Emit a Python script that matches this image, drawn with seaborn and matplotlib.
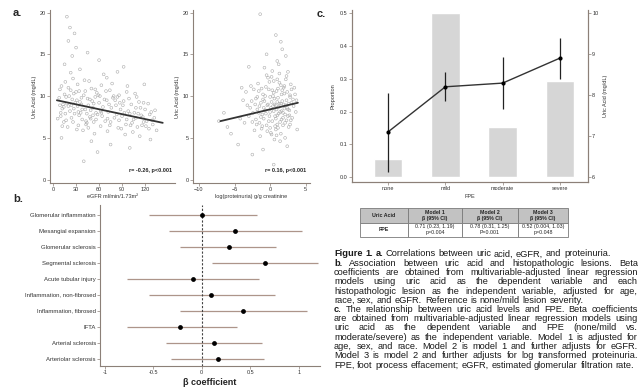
import numpy as np
import matplotlib
matplotlib.use("Agg")
import matplotlib.pyplot as plt
import seaborn as sns
from matplotlib.font_manager import FontProperties

# ---- panel a: uric acid vs eGFR ----
egfr = [8, 12, 15, 10, 18, 20, 22, 25, 14, 9,
        28, 30, 32, 26, 35, 38, 40, 33, 24, 16,
        42, 45, 48, 50, 44, 52, 55, 47, 39, 36,
        58, 60, 62, 65, 57, 63, 68, 70, 54, 66,
        72, 75, 78, 80, 74, 82, 85, 77, 71, 88,
        90, 92, 95, 98, 86, 94, 100, 102, 97, 89,
        105, 108, 110, 112, 104, 115, 118, 120, 107, 113,
        122, 125, 128, 130, 124, 132, 135, 127, 119, 116,
        18, 22, 28, 20, 30, 60, 25, 45, 15, 35,
        70, 92, 40, 58, 100, 75, 50, 11, 6, 84,
        10, 13, 17, 21, 27, 31, 37, 43, 49, 53,
        11, 19, 23, 29, 34, 41, 46, 51, 56, 61,
        14, 17, 24, 27, 31, 34, 38, 42, 46, 49,
        53, 56, 59, 63, 67, 71, 76, 79, 83, 87,
        91, 96, 99, 103, 106, 109, 114, 117, 121, 126,
        12, 16, 20, 26, 32, 37, 44, 48, 55, 64,
        69, 73, 81, 86, 93, 101, 111, 129, 133, 9,
        23, 33, 43, 52, 62, 74, 84, 96, 108, 118]
ua_egfr = [9.8, 8.5, 10.2, 7.6, 9.1, 11.0, 8.2, 9.6, 6.9, 10.8,
           7.9, 10.5, 8.8, 12.1, 9.3, 7.2, 10.1, 6.5, 8.9, 11.7,
           8.4, 9.7, 7.5, 10.9, 6.8, 8.6, 9.9, 11.8, 5.9, 8.0,
           7.8, 9.2, 6.4, 8.7, 10.4, 11.3, 7.0, 9.5, 5.5, 12.6,
           8.1, 6.9, 9.8, 7.4, 10.7, 8.9, 6.2, 11.5, 5.8, 8.4,
           7.6, 9.4, 6.6, 8.2, 10.1, 5.4, 7.9, 9.0, 11.2, 6.1,
           7.2, 8.6, 6.3, 9.3, 5.7, 7.7, 6.9, 8.4, 10.3, 5.2,
           7.0, 6.1, 8.1, 6.6, 9.1, 7.4, 5.9, 4.8, 11.4, 6.5,
           19.5, 18.2, 17.5, 16.6, 15.8, 14.3, 14.8, 15.2, 13.8, 13.2,
           12.2, 13.5, 2.2, 3.3, 3.8, 4.2, 4.6, 5.0, 7.3, 12.9,
           8.0, 9.0, 7.1, 10.0, 8.5, 6.0, 9.0, 7.0, 8.3, 6.9,
           11.2, 6.3, 12.8, 9.2, 10.6, 11.9, 6.2, 9.4, 8.0, 10.0,
           8.7, 9.9, 7.4, 10.3, 9.5, 7.7, 8.4, 10.6, 8.9, 7.3,
           9.1, 7.2, 10.1, 8.0, 9.6, 7.3, 8.6, 10.0, 7.8, 9.2,
           8.9, 7.2, 9.7, 6.8, 8.0, 9.9, 8.6, 7.5, 6.4, 7.8,
           6.4, 7.9, 8.8, 6.9, 11.4, 9.8, 7.9, 9.6, 10.8, 7.6,
           10.6, 9.0, 9.5, 7.1, 8.0, 6.5, 7.9, 7.1, 8.3, 8.9,
           10.7, 8.1, 6.6, 7.7, 8.2, 6.5, 9.9, 10.5, 7.4, 9.2]
fit_egfr_x = [5, 143]
fit_egfr_y = [9.5, 6.8]

# ---- panel a: uric acid vs log proteinuria ----
logprot = [-2.0, -1.5, -1.0, -0.5, 0.0, 0.5, 1.0, 1.5, 2.0, 2.5,
           -1.8, -1.2, -0.7, -0.2, 0.3, 0.8, 1.3, 1.8, 2.3, 2.8,
           -2.4, -1.6, -0.9, -0.3, 0.2, 0.7, 1.1, 1.6, 2.1, 3.0,
           -1.9, -1.3, -0.6, 0.1, 0.6, 1.2, 1.7, 2.2, 2.7, 3.3,
           -2.6, -1.1, -0.4, 0.4, 0.9, 1.4, 1.9, 2.4, 2.9, 3.5,
           -3.0, -2.2, -0.8, 0.0, 0.5, 1.0, 1.5, 2.0, 2.6, 3.1,
           -3.4, -1.7, -0.1, 0.3, 0.8, 1.3, 1.8, 2.3, 2.8, 3.6,
           -2.8, -1.4, -0.5, 0.6, 1.1, 1.6, 2.1, 2.5, 0.2, 1.0,
           -1.4, 0.8, 1.5, -0.5, 2.2, -3.0, 1.0, -6.5, -7.2, -5.5,
           -4.5, -2.5, 0.5, -3.8, -6.0, -4.0, 3.8, -1.0, 2.4, 1.7,
           -1.6, -1.0, -0.4, 0.2, 0.7, 1.2, 1.7, 2.2, 2.7, 3.2,
           -2.1, -1.3, -0.7, -0.1, 0.4, 0.9, 1.4, 1.9, 2.4, 2.9,
           -2.5, -1.8, -1.2, -0.6, 0.0, 0.6, 1.1, 1.6, 2.0, 3.4,
           -2.3, -1.5, -0.9, -0.3, 0.3, 0.8, 1.3, 1.8, 2.5, 3.0,
           -3.2, -2.0, -1.1, -0.2, 0.5, 1.0, 1.5, 2.1, 2.6, 3.7,
           -4.2, -3.6, -2.7, 0.1, 0.9, 1.4, 2.3, 2.8, -0.8, 1.2]
ua_prot = [7.2, 8.8, 9.6, 6.5, 8.1, 10.4, 7.7, 9.1, 11.2, 8.4,
           9.9, 6.1, 8.3, 10.8, 7.0, 8.9, 11.6, 7.4, 9.5, 10.1,
           8.0, 10.6, 7.3, 9.0, 12.3, 6.4, 9.8, 8.2, 6.8, 9.2,
           6.6, 9.2, 11.1, 8.6, 9.7, 7.9, 10.7, 12.0, 7.7, 8.8,
           9.4, 7.8, 5.8, 10.0, 8.4, 6.9, 9.0, 8.6, 11.4, 10.2,
           7.6, 5.9, 9.4, 6.2, 11.8, 9.3, 5.5, 10.3, 6.3, 7.4,
           10.5, 11.5, 7.6, 13.0, 6.0, 12.7, 8.0, 7.1, 9.9, 8.1,
           8.6, 5.2, 12.5, 4.8, 10.9, 7.2, 5.0, 12.9, 5.4, 6.6,
           19.8, 17.3, 16.5, 15.0, 14.8, 13.5, 14.2, 8.0, 7.0, 5.5,
           4.2, 3.0, 1.8, 9.5, 6.3, 11.0, 6.0, 3.6, 4.0, 15.6,
           8.0, 10.2, 8.9, 9.3, 7.6, 8.7, 9.4, 8.9, 8.3, 9.6,
           9.0, 7.5, 10.0, 11.7, 8.8, 10.6, 8.1, 11.0, 10.5, 7.1,
           6.9, 8.4, 10.9, 7.9, 9.9, 9.0, 6.2, 10.2, 8.5, 11.0,
           10.8, 6.8, 8.6, 12.2, 10.7, 7.3, 9.1, 6.5, 7.6, 10.8,
           8.9, 9.7, 6.4, 7.0, 8.2, 12.0, 11.3, 7.8, 9.1, 9.5,
           7.3, 6.8, 11.2, 5.6, 5.3, 4.6, 12.4, 6.6, 13.4, 13.8]
fit_prot_x = [-7.0, 3.9]
fit_prot_y = [7.0, 9.2]

# ---- panel b: forest plot ----
lesions = ["Glomerular inflammation", "Mesangial expansion", "Glomerular sclerosis",
           "Segmental sclerosis", "Acute tubular injury", "Inflammation, non-fibrosed",
           "Inflammation, fibrosed", "IFTA", "Arterial sclerosis", "Arteriolar sclerosis"]
beta = [0.00, 0.34, 0.28, 0.65, -0.09, 0.10, 0.43, -0.22, 0.13, 0.17]
beta_lo = [-0.54, -0.34, -0.22, 0.11, -0.77, -0.54, -0.22, -0.77, -0.37, -0.32]
beta_hi = [0.57, 1.03, 0.77, 1.20, 0.59, 0.76, 1.09, 0.36, 0.62, 0.64]

# ---- panel c: FPE ----
fpe = ["none", "mild", "moderate", "severe"]
fpe_prop = [0.056, 0.50, 0.153, 0.293]
fpe_ua = [7.1, 8.2, 8.29, 8.9]
fpe_ua_lo = [6.12, 7.86, 7.67, 8.40]
fpe_ua_hi = [8.04, 8.55, 8.92, 9.39]

table_rows = [["Uric Acid", "Model 1\nβ (95% CI)", "Model 2\nβ (95% CI)", "Model 3\nβ (95% CI)"],
              ["FPE", "0.71 (0.23, 1.19)\np=0.004", "0.78 (0.31, 1.25)\nP=0.001",
               "0.52 (0.004, 1.03)\np=0.048"]]

caption = [
    ("*Figure *1. *a. Correlations between uric acid, eGFR, and proteinuria.", False),
    ("*b. Association between uric acid and histopathologic lesions. Beta", True),
    ("coefficients are obtained from multivariable-adjusted linear regression", True),
    ("models using uric acid as the dependent variable and each", True),
    ("histopathologic lesion as the independent variable, adjusted for age,", True),
    ("race, sex, and eGFR. Reference is none/mild lesion severity.", False),
    ("*c. The relationship between uric acid levels and FPE. Beta coefficients", True),
    ("are obtained from multivariable-adjusted linear regression models using", True),
    ("uric acid as the dependent variable and FPE (none/mild vs.", True),
    ("moderate/severe) as the independent variable. Model 1 is adjusted for", True),
    ("age, sex, and race. Model 2 is model 1 and further adjusts for eGFR.", True),
    ("Model 3 is model 2 and further adjusts for log transformed proteinuria.", True),
    ("FPE, foot process effacement; eGFR, estimated glomerular filtration rate.", False),
]

sns.set_style("ticks")
plt.rcParams["font.family"] = ["Liberation Sans", "DejaVu Sans"]
SPINE = "#8c8078"
W, H = 641, 389


def box(x0, y0, x1, y1):
    return [x0 / W, 1 - y1 / H, (x1 - x0) / W, (y1 - y0) / H]


def style_ax(ax, right=False):
    sns.despine(ax=ax, right=not right)
    for s in ax.spines.values():
        s.set_color(SPINE)
        s.set_linewidth(0.8)
    ax.tick_params(labelsize=4, length=2, width=0.5, pad=1, color=SPINE, labelcolor="#333")


fig = plt.figure(figsize=(6.41, 3.89), dpi=100)

# a. scatter panels
ax1 = fig.add_axes(box(50, 10, 175, 183))
sns.scatterplot(x=egfr, y=ua_egfr, ax=ax1, s=4, marker="o", color="none",
                edgecolor="#ababab", linewidth=0.4)
sns.lineplot(x=fit_egfr_x, y=fit_egfr_y, ax=ax1, color="#333", lw=1.3)
ax1.set_xlim(-4, 159)
ax1.set_ylim(-0.4, 20.3)
ax1.set_xticks([0, 30, 60, 90, 120])
ax1.set_yticks([0, 5, 10, 15, 20])
ax1.set_xlabel("eGFR ml/min/1.73m²", fontsize=4, labelpad=1, color="#333")
ax1.set_ylabel("Uric Acid (mg/dL)", fontsize=4, labelpad=2, color="#333")
ax1.text(155, 0.9, "r= -0.26, p<0.001", fontsize=4, fontweight="bold", ha="right")
style_ax(ax1)

ax2 = fig.add_axes(box(193, 10, 310, 183))
sns.scatterplot(x=logprot, y=ua_prot, ax=ax2, s=4, marker="o", color="none",
                edgecolor="#ababab", linewidth=0.4)
sns.lineplot(x=fit_prot_x, y=fit_prot_y, ax=ax2, color="#333", lw=1.3)
ax2.set_xlim(-10.84, 5.6)
ax2.set_ylim(-0.4, 20.3)
ax2.set_xticks([-10, -5, 0, 5])
ax2.set_yticks([0, 5, 10, 15, 20])
ax2.set_xlabel("log(proteinuria) g/g creatinine", fontsize=4, labelpad=1, color="#333")
ax2.set_ylabel("Uric Acid (mg/dL)", fontsize=4, labelpad=2, color="#333")
ax2.text(5.0, 0.9, "r= 0.16, p<0.001", fontsize=4, fontweight="bold", ha="right")
style_ax(ax2)

# b. forest plot
axb = fig.add_axes(box(100, 205, 320, 366))
axb.hlines(range(len(lesions)), beta_lo, beta_hi, color="#ad958a", lw=0.9)
sns.scatterplot(x=beta, y=list(range(len(lesions))), ax=axb, s=12, color="black",
                linewidth=0, zorder=3)
axb.axvline(0, color="#444", lw=0.8, ls=(0, (2, 1.5)))
axb.set_xlim(-1.05, 1.22)
axb.set_ylim(9.45, -0.6)
axb.set_yticks(range(len(lesions)))
axb.set_yticklabels(lesions)
axb.set_xticks([-1, -0.5, 0, 0.5, 1])
axb.set_xticklabels(["-1", "-0.5", "0", "0.5", "1"])
axb.set_xlabel("β coefficient", fontsize=6.5, fontweight="bold", labelpad=2, color="#222")
style_ax(axb)
axb.tick_params(axis="y", labelsize=4.3)

# c. bars + uric acid line
axc = fig.add_axes(box(352, 10, 588, 182))
sns.barplot(x=fpe, y=fpe_prop, ax=axc, color="#d6d6d6", width=0.5, saturation=1)
axc.set_xlim(-0.63, 3.49)
axc.set_ylim(-0.015, 0.51)
axc.set_yticks([0, 0.1, 0.2, 0.3, 0.4, 0.5])
axc.set_xlabel("FPE", fontsize=4, labelpad=2, color="#333")
axc.set_ylabel("Proportion", fontsize=4, labelpad=3, color="#333")
style_ax(axc, right=True)
axc.spines["right"].set_visible(True)

axr = axc.twinx()
xs = np.arange(len(fpe))
axr.errorbar(xs, fpe_ua,
             yerr=[np.subtract(fpe_ua, fpe_ua_lo), np.subtract(fpe_ua_hi, fpe_ua)],
             fmt="none", ecolor="#222", elinewidth=0.9)
sns.lineplot(x=xs, y=fpe_ua, ax=axr, color="#333", lw=1.0, marker="o", markersize=3,
             markeredgewidth=0, markerfacecolor="black")
axr.set_ylim(5.878, 10.073)
axr.set_yticks([6, 7, 8, 9, 10])
axr.set_ylabel("Uric Acid (mg/dL)", fontsize=4, labelpad=3, color="#333")
axr.spines["top"].set_visible(False)
for s in axr.spines.values():
    s.set_color(SPINE)
    s.set_linewidth(0.8)
axr.tick_params(labelsize=4, length=2, width=0.5, pad=1, color=SPINE, labelcolor="#333")

# table
axt = fig.add_axes(box(360, 208, 568, 237))
axt.axis("off")
tab = axt.table(cellText=table_rows, bbox=[0, 0, 1, 1], cellLoc="center",
                colWidths=[48, 54, 56, 50])
tab.auto_set_font_size(False)
for (r, c), cell in tab.get_celld().items():
    cell.set_edgecolor("#7a7a7a")
    cell.set_linewidth(0.6)
    cell.get_text().set_fontsize(3.8)
    cell.get_text().set_color("#222")
    if r == 0:
        cell.set_facecolor("#c2c2c2")
        cell.get_text().set_fontweight("bold")
    if c == 0:
        cell.get_text().set_fontweight("bold")

# panel labels
fig.text(13 / W, 1 - 16 / H, "a.", fontsize=8, fontweight="bold")
fig.text(13 / W, 1 - 202 / H, "b.", fontsize=8, fontweight="bold")
fig.text(317 / W, 1 - 17 / H, "c.", fontsize=8, fontweight="bold")

# caption, justified line by line
renderer = fig.canvas.get_renderer()
cap_x0, cap_x1, cap_y0, cap_dy = 334, 638, 254, 9.25


def word_w(s, bold, size):
    fp = FontProperties(family="Liberation Sans", size=size, weight="bold" if bold else "normal")
    w, h, d = renderer.get_text_width_height_descent(s, fp, ismath=False)
    return w


# size the caption font so the last (unjustified) line fills the column
fs = 6.0 * (cap_x1 - cap_x0 - 2) / word_w(caption[-1][0], False, 6.0)
space_w = word_w("a a", False, fs) - 2 * word_w("a", False, fs)
for i, (line, justify) in enumerate(caption):
    words = [(w.lstrip("*"), w.startswith("*")) for w in line.split(" ")]
    widths = [word_w(w, b, fs) for w, b in words]
    gap = space_w
    if justify and len(words) > 1:
        gap = (cap_x1 - cap_x0 - sum(widths)) / (len(words) - 1)
    x = cap_x0
    y = cap_y0 + i * cap_dy
    for (w, b), ww in zip(words, widths):
        fig.text(x / W, 1 - y / H, w, fontsize=fs, color="#1a1a1a",
                 fontweight="bold" if b else "normal", va="center")
        x += ww + gap

fig.savefig("out.png", dpi=100)
